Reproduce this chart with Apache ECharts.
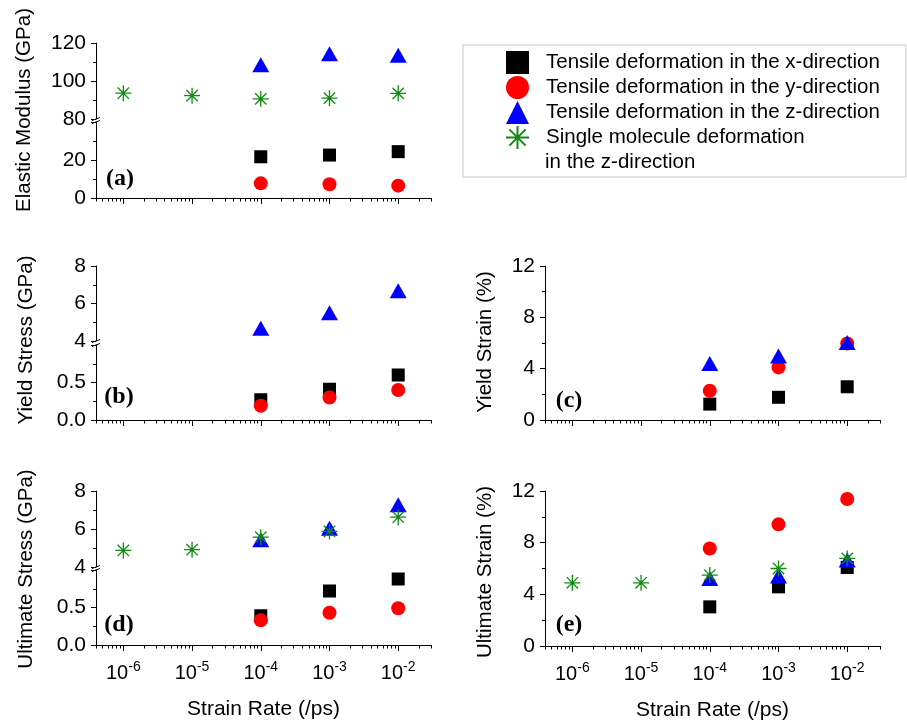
<!DOCTYPE html>
<html><head><meta charset="utf-8">
<script src="https://cdn.jsdelivr.net/npm/echarts@6/dist/echarts.min.js"></script>
<style>html,body{margin:0;padding:0;background:#fff}#c{width:907px;height:723px}</style>
</head><body><div id="c"></div>
<script>
// ---------------- data ----------------
const seriesNames = [
  'Tensile deformation in the x-direction',
  'Tensile deformation in the y-direction',
  'Tensile deformation in the z-direction',
  'Single molecule deformation\nin the z-direction'
];
const rateMD = [1e-4, 1e-3, 1e-2];               // strain rates of the tensile runs (/ps)
const rateSM = [1e-6, 1e-5, 1e-4, 1e-3, 1e-2];   // strain rates of the single-molecule runs (/ps)
const xMin = 4e-7, xMax = 3e-2;
const majorRates = [1e-6, 1e-5, 1e-4, 1e-3, 1e-2];
const minorMultipliers = [2, 3, 4, 5, 6, 7, 8, 9];

// (a) Elastic modulus (GPa)
const modulusX = [21.7, 22.6, 24.4];
const modulusY = [7.7, 7.2, 6.5];
const modulusZ = [108.6, 114.3, 113.6];
const modulusSM = [93.6, 92.3, 90.6, 91.0, 93.5];
// (b) Yield stress (GPa)
const yStressX = [0.27, 0.41, 0.60];
const yStressY = [0.19, 0.30, 0.40];
const yStressZ = [4.68, 5.51, 6.68];
// (c) Yield strain (%)
const yStrainX = [1.24, 1.77, 2.59];
const yStrainY = [2.28, 4.10, 5.96];
const yStrainZ = [4.41, 4.98, 6.04];
// (d) Ultimate stress (GPa)
const uStressX = [0.39, 0.72, 0.88];
const uStressY = [0.33, 0.43, 0.49];
const uStressZ = [5.43, 6.04, 7.27];
const uStressSM = [4.87, 4.91, 5.57, 5.87, 6.62];
// (e) Ultimate strain (%)
const uStrainX = [3.03, 4.58, 6.08];
const uStrainY = [7.55, 9.42, 11.38];
const uStrainZ = [5.23, 5.41, 6.65];
const uStrainSM = [4.89, 4.89, 5.49, 6.00, 6.78];

// ---------------- styling / layout ----------------
const FONT = '"Liberation Sans", Arial, sans-serif';
const SERIF = '"Liberation Serif", "Times New Roman", serif';
const COLORS = ['#000000', '#ff0000', '#0000ff', '#108a10'];
const STAR = 'path://M0,-1L0,1M-1,0L1,0M-0.71,-0.71L0.71,0.71M-0.71,0.71L0.71,-0.71M-0.12,0L0,-0.12L0.12,0L0,0.12Z';
const SYMBOLS = ['rect', 'circle', 'triangle', STAR];
const SIZES = [13, 14, [17, 15], 16];

const panels = [
  { label: '(a)', title: 'Elastic Modulus (GPa)', left: 96, titleX: 24, titleY: 110, labelX: 120, labelY: 179, xLabels: false,
    segs: [{ top: 43, height: 76, min: 80, max: 120, interval: 20 }, { top: 122, height: 76, min: 0, max: 40, interval: 20, dec: 0 }],
    data: [[rateMD, modulusX], [rateMD, modulusY], [rateMD, modulusZ], [rateSM, modulusSM]] },
  { label: '(b)', title: 'Yield Stress (GPa)', left: 96, titleX: 26, titleY: 340, labelX: 119, labelY: 397, xLabels: false,
    segs: [{ top: 266, height: 75, min: 4, max: 8, interval: 2 }, { top: 345, height: 75, min: 0, max: 1, interval: 0.5, dec: 1 }],
    data: [[rateMD, yStressX], [rateMD, yStressY], [rateMD, yStressZ], null] },
  { label: '(c)', title: 'Yield Strain (%)', left: 545, titleX: 485, titleY: 342, labelX: 569, labelY: 401, xLabels: false,
    segs: [{ top: 266, height: 154, min: 0, max: 12, interval: 4 }],
    data: [[rateMD, yStrainX], [rateMD, yStrainY], [rateMD, yStrainZ], null] },
  { label: '(d)', title: 'Ultimate Stress (GPa)', left: 96, titleX: 26, titleY: 569, labelX: 119, labelY: 625, xLabels: true,
    segs: [{ top: 491, height: 76, min: 4, max: 8, interval: 2 }, { top: 570, height: 75, min: 0, max: 1, interval: 0.5, dec: 1 }],
    data: [[rateMD, uStressX], [rateMD, uStressY], [rateMD, uStressZ], [rateSM, uStressSM]] },
  { label: '(e)', title: 'Ultimate Strain (%)', left: 545, titleX: 485, titleY: 572, labelX: 569, labelY: 625, xLabels: true,
    segs: [{ top: 491, height: 155, min: 0, max: 12, interval: 4 }],
    data: [[rateMD, uStrainX], [rateMD, uStrainY], [rateMD, uStrainZ], [rateSM, uStrainSM]] }
];
const PLOT_W = 335;

// ---------------- build option ----------------
const lx = v => Math.log10(v);
const majorTicks = majorRates.map(lx);
const minorTicks = [];
for (let n = -7; n <= -2; n++) for (const k of minorMultipliers) {
  const v = lx(k * Math.pow(10, n));
  if (v >= lx(xMin) - 1e-9 && v <= lx(xMax) + 1e-9) minorTicks.push(v);
}
const black = { color: '#000', width: 1 };

const grid = [], xAxis = [], yAxis = [], series = [], graphic = [];
panels.forEach(p => {
  const broken = p.segs.length > 1;
  p.segs.forEach((s, si) => {
    const gi = grid.length;
    const bottomSeg = si === p.segs.length - 1;
    grid.push({ left: p.left, top: s.top, width: PLOT_W, height: s.height, outerBoundsMode: 'none', containLabel: false });
    const xa = {
      gridIndex: gi, type: 'value', min: lx(xMin), max: lx(xMax), show: bottomSeg,
      axisLine: { show: true, onZero: false, lineStyle: black },
      axisTick: { show: true, customValues: majorTicks, length: 6, lineStyle: black },
      axisLabel: { show: p.xLabels, customValues: majorTicks, margin: 15, color: '#000',
        formatter: v => '{b|10}{s|' + Math.round(v) + '}',
        rich: { b: { fontSize: 20, fontFamily: FONT, color: '#000' },
                s: { fontSize: 14, fontFamily: FONT, color: '#000', padding: [0, 0, 12, 0] } } },
      splitLine: { show: false }
    };
    if (bottomSeg && p.xLabels) {
      xa.name = 'Strain Rate (/ps)';
      xa.nameLocation = 'middle';
      xa.nameGap = 54;
      xa.nameTextStyle = { fontSize: 21, fontFamily: FONT, color: '#000' };
    }
    xAxis.push(xa);
    if (bottomSeg) {
      xAxis.push({
        gridIndex: gi, type: 'value', min: lx(xMin), max: lx(xMax), position: 'bottom',
        axisLine: { show: false, onZero: false },
        axisTick: { show: true, customValues: minorTicks, length: 3.5, lineStyle: black },
        axisLabel: { show: false }, splitLine: { show: false }
      });
    }
    const xIndex = xAxis.length - (bottomSeg ? 2 : 1);
    yAxis.push({
      gridIndex: gi, type: 'value', min: s.min, max: s.max, interval: s.interval,
      axisLine: { show: true, onZero: false, lineStyle: black },
      axisTick: { show: true, length: 5, lineStyle: black },
      minorTick: { show: true, splitNumber: 2, length: 3, lineStyle: black },
      axisLabel: { show: true, fontSize: 21, fontFamily: FONT, color: '#000', margin: 10,
        showMaxLabel: !(broken && bottomSeg),
        formatter: v => s.dec ? v.toFixed(s.dec) : String(v) },
      splitLine: { show: false }, minorSplitLine: { show: false }
    });
    p.data.forEach((d, k) => {
      if (!d) return;
      const pts = [];
      d[0].forEach((r, i) => { const v = d[1][i]; if (v >= s.min && v <= s.max) pts.push([lx(r), v]); });
      if (!pts.length) return;
      series.push({
        type: 'scatter', name: seriesNames[k], xAxisIndex: xIndex, yAxisIndex: gi,
        symbol: SYMBOLS[k], symbolSize: SIZES[k], data: pts, z: 2 + k,
        itemStyle: k === 3 ? { color: COLORS[k], borderColor: COLORS[k], borderWidth: 1.3, opacity: 1 }
                           : { color: COLORS[k], opacity: 1 },
        emphasis: { disabled: true }, silent: true
      });
    });
  });
  if (broken) {
    const uy = p.segs[0].top + p.segs[0].height, ly = p.segs[1].top;
    [uy, ly].forEach(y => graphic.push({ type: 'line', shape: { x1: p.left - 4, y1: y + 1.5, x2: p.left + 4, y2: y - 1.5 },
      style: { stroke: '#000', lineWidth: 1 }, z: 100 }));
  }
  graphic.push({ type: 'text', x: p.titleX, y: p.titleY, rotation: Math.PI / 2,
    style: { text: p.title, fontSize: 20.5, fontFamily: FONT, fill: '#000', align: 'center', verticalAlign: 'middle' } });
  graphic.push({ type: 'text', x: p.labelX, y: p.labelY,
    style: { text: p.label, fontSize: 24, fontWeight: 'bold', fontFamily: SERIF, fill: '#000', align: 'center', verticalAlign: 'middle' } });
});

// legend: the icon sits beside the first line of each entry; the wrapped
// continuation line of the last entry is set just below it.
const LEG = { left: 463, top: 45, padTop: 5, padLeft: 42, row: 25, textGap: 17, icon: 23 };
const lastParts = seriesNames[3].split('\n');
graphic.push({ type: 'text', z: 200,
  x: LEG.left + LEG.padLeft + LEG.icon + LEG.textGap, y: LEG.top + LEG.padTop + LEG.row * 4.5,
  style: { text: lastParts[1], fontSize: 20.5, fontFamily: FONT, fill: '#000', align: 'left', verticalAlign: 'middle' } });

const option = {
  animation: false,
  backgroundColor: '#fff',
  grid, xAxis, yAxis, series, graphic,
  legend: {
    show: true, orient: 'vertical', left: LEG.left, top: LEG.top, z: 10,
    padding: [LEG.padTop, 26, 27, LEG.padLeft], itemGap: 0, itemWidth: LEG.icon, itemHeight: LEG.icon,
    borderColor: '#c8c8c8', borderWidth: 1, backgroundColor: '#fff',
    selectedMode: false, data: seriesNames,
    formatter: name => name.split('\n')[0],
    textStyle: { fontSize: 20.5, fontFamily: FONT, color: '#000', padding: [0, 0, 0, LEG.textGap - 5], lineHeight: LEG.row }
  }
};
const chart = echarts.init(document.getElementById('c'), null, { renderer: 'canvas' });
chart.setOption(option);
</script></body></html>
